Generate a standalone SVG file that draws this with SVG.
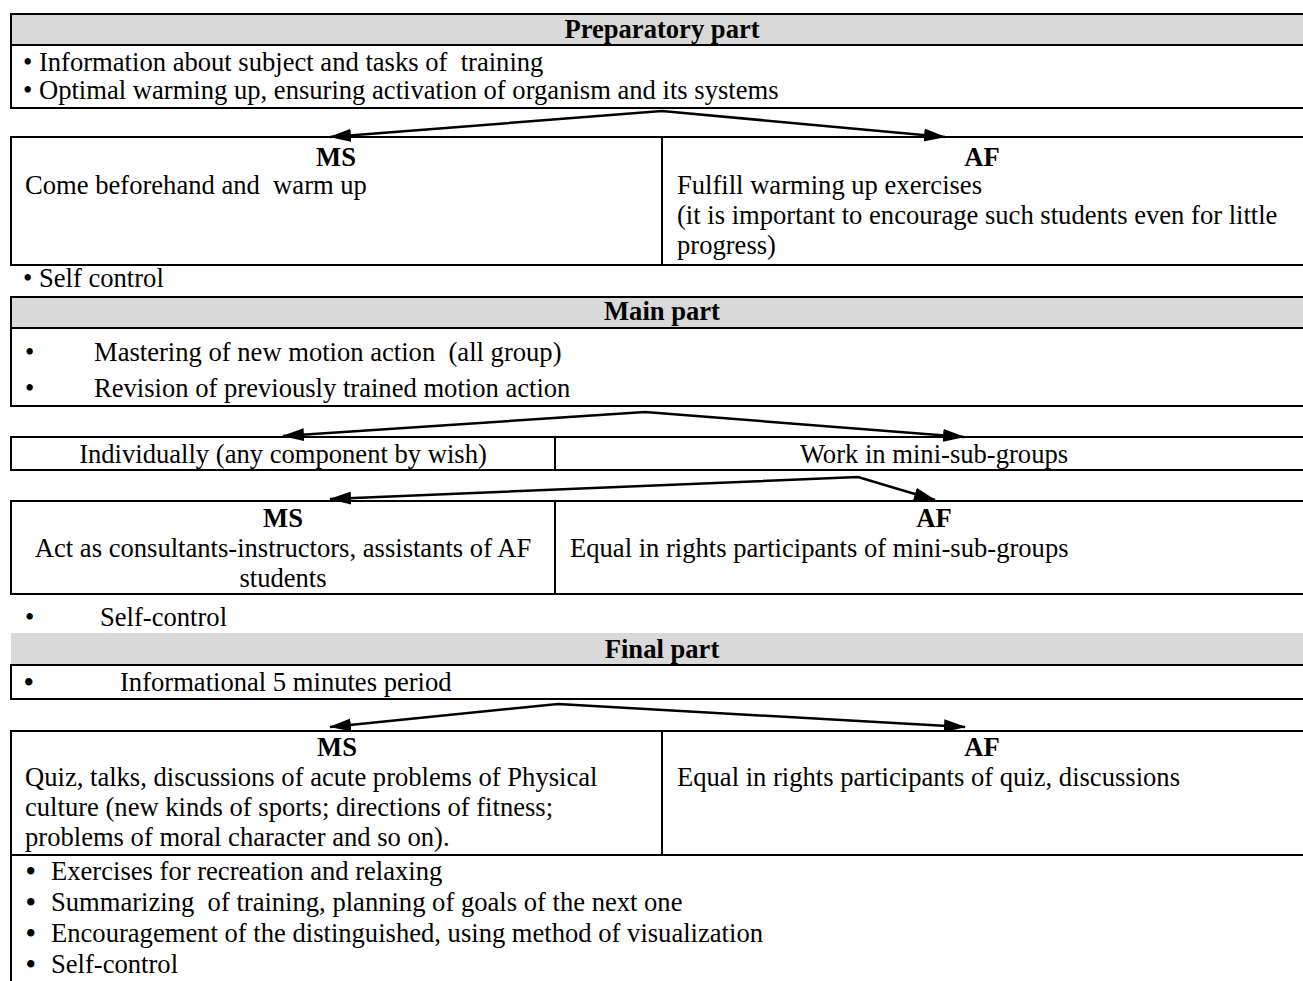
<svg xmlns="http://www.w3.org/2000/svg" width="1303" height="981" viewBox="0 0 1303 981">
<style>
text{font-family:"Liberation Serif","Times New Roman",serif;font-size:26.6px;fill:#000}
.b{font-weight:bold}
.m{text-anchor:middle}
.hd{fill:#d9d9d9;stroke:#000;stroke-width:2}
.hdn{fill:#d9d9d9;stroke:none}
.bx{fill:none;stroke:#000;stroke-width:2}
.ln{stroke:#000;stroke-width:2;fill:none}
.ar{fill:none;stroke:#000;stroke-width:2.5;marker-start:url(#ah);marker-end:url(#ah)}
.big{font-size:27px;font-weight:bold}
</style>
<defs>
<marker id="ah" markerUnits="userSpaceOnUse" markerWidth="22" markerHeight="13" viewBox="0 0 22 13" refX="21" refY="6.5" orient="auto-start-reverse">
<path d="M0,0 L22,6.5 L0,13 z" fill="#000"/>
</marker>
</defs>
<rect width="1303" height="981" fill="#fff"/>

<g id="prep-header">
<rect class="hd" x="11" y="14" width="1300" height="31"/>
<text class="b m" x="662" y="38">Preparatory part</text>
</g>
<g id="prep-list">
<rect class="bx" x="11" y="45" width="1300" height="63"/>
<text x="23" y="71" xml:space="preserve">• Information about subject and tasks of  training</text>
<text x="23" y="99">• Optimal warming up, ensuring activation of organism and its systems</text>
</g>
<g id="prep-ms">
<rect class="bx" x="11" y="137" width="651" height="128"/>
<text class="b m" x="336" y="166">MS</text>
<text x="25" y="194" xml:space="preserve">Come beforehand and  warm up</text>
</g>
<g id="prep-af">
<rect class="bx" x="662" y="137" width="649" height="128"/>
<text class="b m" x="982" y="166">AF</text>
<text x="677" y="194">Fulfill warming up exercises</text>
<text x="677" y="224">(it is important to encourage such students even for little</text>
<text x="677" y="254">progress)</text>
</g>
<g id="prep-self">
<text x="23" y="287">• Self control</text>
</g>

<g id="main-header">
<rect class="hd" x="11" y="297" width="1300" height="31"/>
<text class="b m" x="662" y="320">Main part</text>
</g>
<g id="main-list">
<rect class="bx" x="11" y="328" width="1300" height="78"/>
<text xml:space="preserve"><tspan x="25" y="361">•</tspan><tspan x="94" y="361">Mastering of new motion action  (all group)</tspan></text>
<text><tspan x="25" y="397">•</tspan><tspan x="94" y="397">Revision of previously trained motion action</tspan></text>
</g>
<g id="main-indiv">
<rect class="bx" x="11" y="437" width="544" height="33"/>
<text class="m" x="283" y="463">Individually (any component by wish)</text>
</g>
<g id="main-mini">
<rect class="bx" x="555" y="437" width="756" height="33"/>
<text class="m" x="934" y="463">Work in mini-sub-groups</text>
</g>
<g id="main-ms">
<rect class="bx" x="11" y="501" width="544" height="93"/>
<text class="b m" x="283" y="527">MS</text>
<text class="m" x="283" y="557">Act as consultants-instructors, assistants of AF</text>
<text class="m" x="283" y="587">students</text>
</g>
<g id="main-af">
<rect class="bx" x="555" y="501" width="756" height="93"/>
<text class="b m" x="934" y="527">AF</text>
<text x="570" y="557">Equal in rights participants of mini-sub-groups</text>
</g>
<g id="main-self">
<text><tspan x="25" y="626">•</tspan><tspan x="100" y="626">Self-control</tspan></text>
</g>

<g id="final-header">
<rect class="hdn" x="11" y="633" width="1300" height="32"/>
<text class="b m" x="662" y="658">Final part</text>
</g>
<g id="final-info">
<rect class="bx" x="11" y="665" width="1300" height="34"/>
<text><tspan class="big" x="24" y="691">•</tspan><tspan x="120" y="691">Informational 5 minutes period</tspan></text>
</g>
<g id="final-ms">
<rect class="bx" x="11" y="731" width="651" height="124"/>
<text class="b m" x="337" y="756">MS</text>
<text x="25" y="786">Quiz, talks, discussions of acute problems of Physical</text>
<text x="25" y="816">culture (new kinds of sports; directions of fitness;</text>
<text x="25" y="846">problems of moral character and so on).</text>
</g>
<g id="final-af">
<rect class="bx" x="662" y="731" width="649" height="124"/>
<text class="b m" x="982" y="756">AF</text>
<text x="677" y="786">Equal in rights participants of quiz, discussions</text>
</g>
<g id="final-list">
<line class="ln" x1="11" y1="855" x2="11" y2="981"/>
<text><tspan class="big" x="26" y="880">•</tspan><tspan x="51" y="880">Exercises for recreation and relaxing</tspan></text>
<text xml:space="preserve"><tspan class="big" x="26" y="911">•</tspan><tspan x="51" y="911">Summarizing  of training, planning of goals of the next one</tspan></text>
<text><tspan class="big" x="26" y="942">•</tspan><tspan x="51" y="942">Encouragement of the distinguished, using method of visualization</tspan></text>
<text><tspan class="big" x="26" y="973">•</tspan><tspan x="51" y="973">Self-control</tspan></text>
</g>

<g id="connectors">
<path class="ar" d="M330,137 L662,111 L945,137"/>
<path class="ar" d="M283,436 L645,412 L964,437"/>
<path class="ar" d="M330,499 L858,477 L935,500"/>
<path class="ar" d="M330,727 L558,704 L965,727"/>
</g>
</svg>
